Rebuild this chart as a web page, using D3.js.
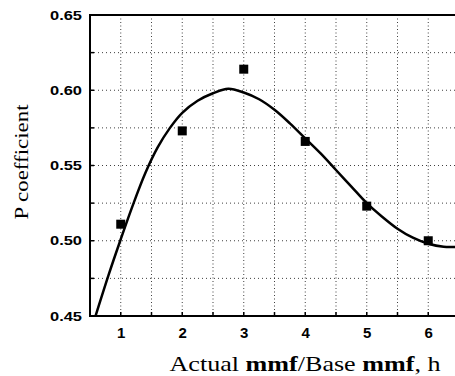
<!DOCTYPE html>
<html>
<head>
<meta charset="utf-8">
<script src="https://cdn.jsdelivr.net/npm/d3@7"></script>
<style>
	body { margin: 0; background: #fff; }
	.tick text { font-family: "Liberation Sans", Arial, sans-serif; font-weight: bold; }
	.title { font-family: "Liberation Serif", "Times New Roman", serif; }
</style>
</head>
<body>
<div id="chart"></div>
<script>
// measured points
var hValues = [1, 2, 3, 4, 5, 6];
var pValues = [0.511, 0.573, 0.614, 0.566, 0.523, 0.500];

// fitted curve
var fitH = [0.59, 0.8, 1.0, 1.2, 1.4, 1.6, 1.8, 2.0, 2.25, 2.5, 2.75, 3.0, 3.25, 3.5, 3.75, 4.0, 4.25, 4.5, 4.75, 5.0, 5.25, 5.5, 5.75, 6.0, 6.25, 6.5];
var fitP = [0.45, 0.477, 0.501, 0.524, 0.545, 0.562, 0.575, 0.585, 0.593, 0.598, 0.601, 0.5985, 0.594, 0.587, 0.578, 0.568, 0.558, 0.547, 0.536, 0.525, 0.516, 0.508, 0.502, 0.498, 0.496, 0.496];

var xTicks = [1, 2, 3, 4, 5, 6];
var yTicks = [0.45, 0.50, 0.55, 0.60, 0.65];
var xGrid = [1, 1.5, 2, 2.5, 3, 3.5, 4, 4.5, 5, 5.5, 6];
var yGrid = [0.475, 0.5, 0.525, 0.55, 0.575, 0.6, 0.625];

function drawChart(id) {
	var w = 455, h = 376;
	var margin = {left: 90, top: 15, right: -4, bottom: 60};

	var x = d3.scaleLinear().domain([0.5, 6.5]).range([margin.left, w - margin.right]);
	var y = d3.scaleLinear().domain([0.45, 0.65]).range([h - margin.bottom, margin.top]);

	var svg = d3.select("#" + id).append("svg")
		.attr("width", w)
		.attr("height", h);

	svg.append("clipPath").attr("id", "plotClip")
		.append("rect")
		.attr("x", x(0.5)).attr("y", y(0.65))
		.attr("width", x(6.5) - x(0.5)).attr("height", y(0.45) - y(0.65));

	// dotted grid
	svg.append("g").selectAll("line")
		.data(xGrid).enter().append("line")
		.attr("x1", function(d) { return x(d); })
		.attr("x2", function(d) { return x(d); })
		.attr("y1", y(0.65)).attr("y2", y(0.45))
		.attr("stroke", "#000").attr("stroke-width", 1)
		.attr("stroke-dasharray", "1,2.5").attr("opacity", 0.75);

	svg.append("g").selectAll("line")
		.data(yGrid).enter().append("line")
		.attr("y1", function(d) { return y(d); })
		.attr("y2", function(d) { return y(d); })
		.attr("x1", x(0.5)).attr("x2", x(6.5))
		.attr("stroke", "#000").attr("stroke-width", 1)
		.attr("stroke-dasharray", "1,3").attr("opacity", 0.75);

	// axes
	var xAxis = d3.axisBottom(x).tickValues(xTicks).tickSize(0).tickPadding(11).tickFormat(d3.format("d"));
	var yAxis = d3.axisLeft(y).tickValues(yTicks).tickSize(0).tickPadding(8).tickFormat(d3.format(".2f"));

	var gx = svg.append("g")
		.attr("transform", "translate(0," + y(0.45) + ")")
		.call(xAxis);
	gx.select(".domain").remove();
	gx.selectAll(".tick text").attr("font-size", 15).attr("fill", "#000");

	var gy = svg.append("g")
		.attr("transform", "translate(" + x(0.5) + ",0)")
		.call(yAxis);
	gy.select(".domain").remove();
	gy.selectAll(".tick text").attr("font-size", 13).attr("fill", "#000")
		.attr("textLength", 32).attr("lengthAdjust", "spacingAndGlyphs");

	// small inward ticks
	svg.append("g").selectAll("line")
		.data(xGrid).enter().append("line")
		.attr("x1", function(d) { return x(d); })
		.attr("x2", function(d) { return x(d); })
		.attr("y1", y(0.45)).attr("y2", y(0.45) - 4)
		.attr("stroke", "#000").attr("stroke-width", 1.5);

	svg.append("g").selectAll("line")
		.data(yGrid).enter().append("line")
		.attr("y1", function(d) { return y(d); })
		.attr("y2", function(d) { return y(d); })
		.attr("x1", x(0.5)).attr("x2", x(0.5) + 4)
		.attr("stroke", "#000").attr("stroke-width", 1.5);

	// frame
	svg.append("path")
		.attr("d", "M" + x(6.5) + "," + y(0.65) + "H" + x(0.5) + "V" + y(0.45) + "H" + x(6.5))
		.attr("fill", "none").attr("stroke", "#000").attr("stroke-width", 2);

	// fit curve
	var fit = fitH.map(function(d, i) { return [d, fitP[i]]; });
	var line = d3.line()
		.x(function(d) { return x(d[0]); })
		.y(function(d) { return y(d[1]); })
		.curve(d3.curveCatmullRom.alpha(0.5));

	svg.append("path")
		.datum(fit)
		.attr("clip-path", "url(#plotClip)")
		.attr("d", line)
		.attr("fill", "none").attr("stroke", "#000").attr("stroke-width", 2.5);

	// measured squares
	var s = 9;
	svg.append("g").selectAll("rect")
		.data(hValues).enter().append("rect")
		.attr("x", function(d) { return x(d) - s / 2; })
		.attr("y", function(d, i) { return y(pValues[i]) - s / 2; })
		.attr("width", s).attr("height", s)
		.attr("fill", "#000");

	// titles
	var xt = svg.append("text")
		.attr("class", "title")
		.attr("x", 305).attr("y", 371)
		.attr("text-anchor", "middle")
		.attr("font-size", 22)
		.attr("textLength", 271).attr("lengthAdjust", "spacingAndGlyphs");
	xt.append("tspan").text("Actual ");
	xt.append("tspan").attr("font-weight", "bold").text("mmf");
	xt.append("tspan").text("/Base ");
	xt.append("tspan").attr("font-weight", "bold").text("mmf");
	xt.append("tspan").text(", h");

	svg.append("text")
		.attr("class", "title")
		.attr("transform", "translate(28,162) rotate(-90)")
		.attr("text-anchor", "middle")
		.attr("font-size", 18)
		.attr("textLength", 115).attr("lengthAdjust", "spacingAndGlyphs")
		.text("P coefficient");
}

drawChart("chart");
</script>
</body>
</html>
